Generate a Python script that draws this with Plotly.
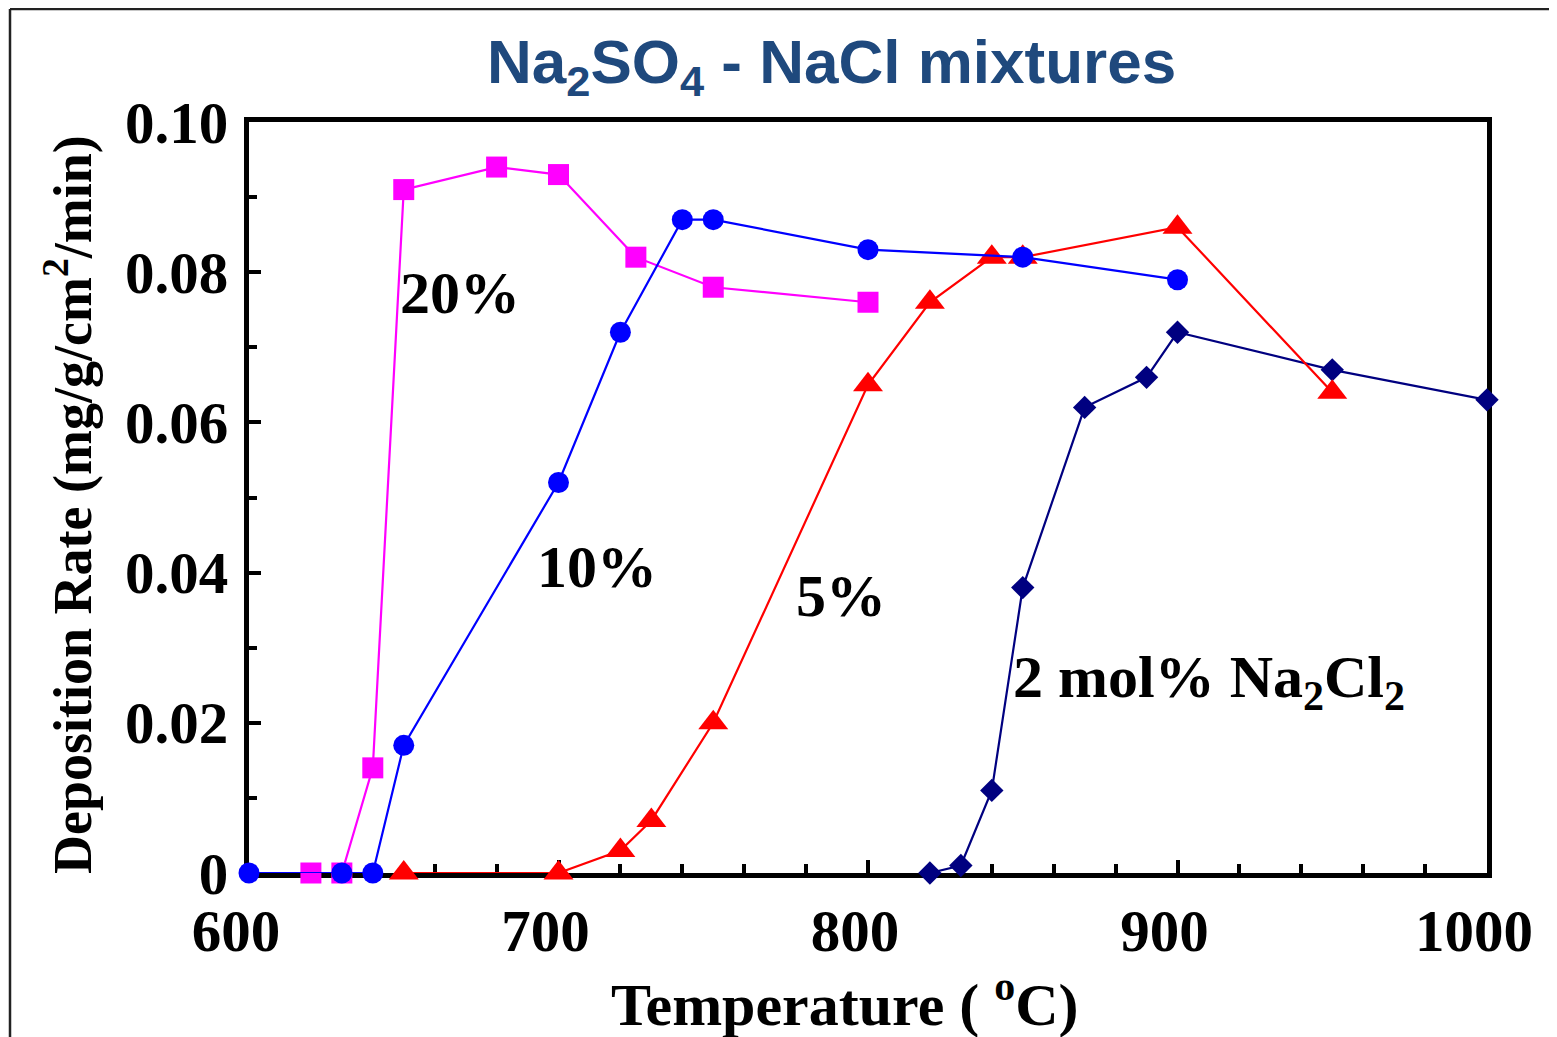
import plotly.graph_objects as go

# ---- data ----
temp_20 = [620, 630, 640, 650, 680, 700, 725, 750, 800]
rate_20 = [0, 0, 0.014, 0.091, 0.094, 0.093, 0.082, 0.078, 0.076]

temp_10 = [600, 630, 640, 650, 700, 720, 740, 750, 800, 850, 900]
rate_10 = [0, 0, 0, 0.017, 0.052, 0.072, 0.087, 0.087, 0.083, 0.082, 0.079]

temp_5 = [650, 700, 720, 730, 750, 800, 820, 840, 850, 900, 950]
rate_5 = [0, 0, 0.003, 0.007, 0.020, 0.065, 0.076, 0.082, 0.082, 0.086, 0.064]

temp_2 = [820, 830, 840, 850, 870, 890, 900, 950, 1000]
rate_2 = [0, 0.001, 0.011, 0.038, 0.062, 0.066, 0.072, 0.067, 0.063]

x_ticks = [600, 700, 800, 900, 1000]
x_ticktext = ["600", "700", "800", "900", "1000"]
y_ticks = [0, 0.02, 0.04, 0.06, 0.08, 0.10]
y_ticktext = ["0", "0.02", "0.04", "0.06", "0.08", "0.10"]

SERIF = "Liberation Serif, Times New Roman, serif"
SANS = "Liberation Sans, Arial, sans-serif"

fig = go.Figure()

def add(x, y, color, symbol, size, name):
    fig.add_trace(go.Scatter(
        x=x, y=y, mode="lines+markers", name=name,
        line=dict(color=color, width=2.2),
        marker=dict(color=color, symbol=symbol, size=size, line=dict(width=0)),
        cliponaxis=False, showlegend=False,
    ))

add(temp_2, rate_2, "#000080", "diamond", 18, "2 mol% Na2Cl2")
add(temp_5, rate_5, "#FF0000", "triangle-up", 26, "5%")
add(temp_20, rate_20, "#FF00FF", "square", 21, "20%")
add(temp_10, rate_10, "#0000FF", "circle", 21, "10%")

# page offset: the browser body adds an 8px margin
OFF = 8
W, H = 1557 - OFF, 1037 - OFF
# plot area in reference pixel coordinates
L, R, T, B = 249, 1487, 122, 873

def px2paper(px, py):
    return (px - L) / (R - L), (B - py) / (B - T)

tickfont = dict(family=SERIF, size=59, color="black", weight="bold")

fig.update_xaxes(
    range=[600, 1000], showline=True, linewidth=5, linecolor="black", mirror=True,
    tickmode="array", tickvals=x_ticks, ticktext=x_ticktext,
    ticks="inside", ticklen=13, tickwidth=3.5, tickcolor="black",
    minor=dict(dtick=20, ticks="inside", ticklen=9, tickwidth=3.5, tickcolor="black"),
    showgrid=False, zeroline=False, tickfont=tickfont,
    ticklabelshift=-13, ticklabelstandoff=2, layer="below traces",
)
fig.update_yaxes(
    range=[0, 0.1], showline=True, linewidth=5, linecolor="black", mirror=True,
    tickmode="array", tickvals=y_ticks, ticktext=y_ticktext,
    ticks="inside", ticklen=12, tickwidth=3.5, tickcolor="black",
    minor=dict(dtick=0.01, ticks="inside", ticklen=8, tickwidth=3.5, tickcolor="black"),
    showgrid=False, zeroline=False, tickfont=tickfont,
    ticklabelstandoff=4, layer="below traces",
)

annots = []
labfont = dict(family=SERIF, size=60, color="black", weight="bold")
for txt, px, py, xa in [
    ("20%", 460, 293, "center"),
    ("10%", 597, 567, "center"),
    ("5%", 841, 596, "center"),
    ("2 mol% Na<sub>2</sub>Cl<sub>2</sub>", 1011, 681, "left"),
]:
    xp, yp = px2paper(px, py)
    annots.append(dict(text=txt, x=xp, y=yp, xref="paper", yref="paper",
                       xanchor=xa, yanchor="middle", showarrow=False, font=labfont))

# axis titles
xp, yp = px2paper(845, 1000)
annots.append(dict(text="Temperature ( <sup>o</sup>C)", x=xp, y=yp, xref="paper", yref="paper",
                   xanchor="center", yanchor="middle", showarrow=False,
                   font=dict(family=SERIF, size=60, color="black", weight="bold")))
xp, yp = px2paper(68, 505)
annots.append(dict(text="Deposition Rate (mg/g/cm<sup>2</sup>/min)", x=xp, y=yp,
                   xref="paper", yref="paper", textangle=-90,
                   xanchor="center", yanchor="middle", showarrow=False,
                   font=dict(family=SERIF, size=54, color="black", weight="bold")))
# chart title
xp, yp = px2paper(831, 66)
annots.append(dict(text="Na<sub>2</sub>SO<sub>4</sub> - NaCl mixtures", x=xp, y=yp,
                   xref="paper", yref="paper", xanchor="center", yanchor="middle",
                   showarrow=False,
                   font=dict(family=SANS, size=62, color="#1F497D", weight="bold")))

# outer slide frame (top and left edges)
shapes = []
x0, y0 = px2paper(10, OFF + 1)
x1, _ = px2paper(1557 + 5, OFF + 1)
_, y1 = px2paper(10, 1037 + 5)
shapes.append(dict(type="line", xref="paper", yref="paper", x0=x0, y0=y0, x1=x1, y1=y0,
                   line=dict(color="#222222", width=2.5)))
shapes.append(dict(type="line", xref="paper", yref="paper", x0=x0, y0=y0, x1=x0, y1=y1,
                   line=dict(color="#222222", width=2.5)))

fig.update_layout(
    width=W, height=H,
    margin=dict(l=L - OFF, r=(1557 - R), t=T - OFF, b=(1037 - B), pad=0),
    paper_bgcolor="white", plot_bgcolor="white",
    annotations=annots, shapes=shapes, showlegend=False,
)

fig.write_html("out.html")
